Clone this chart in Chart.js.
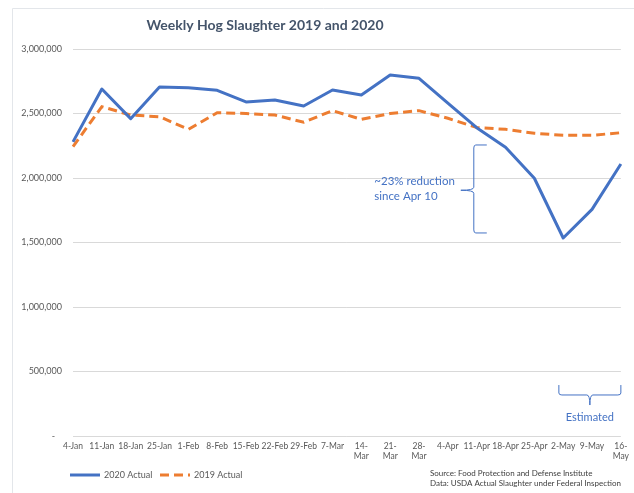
<!DOCTYPE html>
<html>
<head>
<meta charset="utf-8">
<script src="https://cdn.jsdelivr.net/npm/chart.js@4.4.1/dist/chart.umd.min.js"></script>
<style>
  html, body { margin: 0; padding: 0; background: #ffffff; }
  #wrap { width: 634px; height: 493px; position: relative; }
</style>
</head>
<body>
<div id="wrap"><canvas id="c" width="634" height="493"></canvas></div>
<script>
const categories = ['4-Jan','11-Jan','18-Jan','25-Jan','1-Feb','8-Feb','15-Feb','22-Feb','29-Feb','7-Mar',
  ['14-','Mar'],['21-','Mar'],['28-','Mar'],'4-Apr','11-Apr','18-Apr','25-Apr','2-May','9-May',['16-','May']];
const actual2020 = [2280000,2690000,2460000,2705000,2700000,2680000,2590000,2605000,2558000,2682000,
  2643000,2798000,2773000,2580000,2390000,2238000,1998000,1535000,1757000,2109000];
const actual2019 = [2243000,2553000,2488000,2475000,2377000,2506000,2500000,2488000,2432000,2522000,
  2455000,2500000,2522000,2463000,2392000,2377000,2347000,2331000,2331000,2351000];
const yTicks = [0,500000,1000000,1500000,2000000,2500000,3000000];
const seriesNames = ['2020 Actual','2019 Actual'];
const titleText = 'Weekly Hog Slaughter 2019 and 2020';
const sourceLines = ['Source: Food Protection and Defense Institute','Data: USDA Actual Slaughter under Federal Inspection'];
const reductionText = ['~23% reduction','since Apr 10'];
const estimatedText = 'Estimated';

const BLUE = '#4472C4', ORANGE = '#ED7D31', GRID = '#D9D9D9', TXT = '#595959';
const FONT = 'Lato, "Open Sans", sans-serif';

const overlay = {
  id: 'overlay',
  afterDraw(chart) {
    const ctx = chart.ctx;
    const xs = chart.scales.x, ys = chart.scales.y;
    ctx.save();
    // frame
    ctx.strokeStyle = '#E3E6EA'; ctx.lineWidth = 1;
    ctx.beginPath(); ctx.moveTo(12.5, 493); ctx.lineTo(12.5, 8.5); ctx.lineTo(634, 8.5); ctx.stroke();
    // title
    ctx.fillStyle = '#44546A';
    ctx.font = 'bold 14px ' + FONT;
    ctx.textAlign = 'center'; ctx.textBaseline = 'middle';
    ctx.fillText(titleText, 265, 25);
    // legend
    const ds = chart.data.datasets;
    const legendX = [70, 160];
    ctx.font = '9px ' + FONT; ctx.textAlign = 'left';
    ds.forEach((d, i) => {
      ctx.strokeStyle = d.borderColor; ctx.lineWidth = 3;
      ctx.setLineDash(d.borderDash || []);
      ctx.beginPath(); ctx.moveTo(legendX[i], 475); ctx.lineTo(legendX[i] + 30, 475); ctx.stroke();
      ctx.setLineDash([]);
      ctx.fillStyle = TXT;
      ctx.fillText(d.label, legendX[i] + 34, 475);
    });
    // source
    ctx.font = '8px ' + FONT; ctx.fillStyle = '#404040';
    ctx.fillText(sourceLines[0], 430, 473);
    ctx.fillText(sourceLines[1], 430, 483);
    // reduction brace
    ctx.strokeStyle = BLUE; ctx.lineWidth = 1;
    const bx0 = xs.getPixelForValue(13.45), bx1 = xs.getPixelForValue(13.9), bx2 = xs.getPixelForValue(14.35);
    const by0 = ys.getPixelForValue(2256000), by1 = ys.getPixelForValue(1574000), bym = ys.getPixelForValue(1905000);
    ctx.beginPath();
    ctx.moveTo(bx2, by0); ctx.lineTo(bx1 + 2, by0);
    ctx.quadraticCurveTo(bx1, by0, bx1, by0 + 3);
    ctx.lineTo(bx1, bym - 3); ctx.quadraticCurveTo(bx1, bym, bx0, bym);
    ctx.quadraticCurveTo(bx1, bym, bx1, bym + 3);
    ctx.lineTo(bx1, by1 - 3); ctx.quadraticCurveTo(bx1, by1, bx1 + 2, by1);
    ctx.lineTo(bx2, by1);
    ctx.stroke();
    ctx.fillStyle = BLUE; ctx.font = '11.5px ' + FONT; ctx.textAlign = 'left';
    const tx = xs.getPixelForValue(10.45);
    ctx.fillText(reductionText[0], tx, ys.getPixelForValue(1973000));
    ctx.fillText(reductionText[1], tx, ys.getPixelForValue(1857000));
    // estimated bracket
    const ex0 = xs.getPixelForValue(16.85), ex1 = xs.getPixelForValue(19.0), exm = (ex0 + ex1) / 2;
    const ey0 = ys.getPixelForValue(395000), ey1 = ys.getPixelForValue(318000), ey2 = ys.getPixelForValue(240000);
    ctx.beginPath();
    ctx.moveTo(ex0, ey0); ctx.lineTo(ex0, ey1 - 2); ctx.quadraticCurveTo(ex0, ey1, ex0 + 3, ey1);
    ctx.lineTo(exm - 3, ey1); ctx.quadraticCurveTo(exm, ey1, exm, ey2);
    ctx.quadraticCurveTo(exm, ey1, exm + 3, ey1);
    ctx.lineTo(ex1 - 3, ey1); ctx.quadraticCurveTo(ex1, ey1, ex1, ey1 - 2); ctx.lineTo(ex1, ey0);
    ctx.stroke();
    ctx.textAlign = 'center';
    ctx.font = '11px ' + FONT;
    ctx.fillText(estimatedText, exm, ys.getPixelForValue(140000));
    ctx.restore();
  }
};

new Chart(document.getElementById('c'), {
  type: 'line',
  data: {
    labels: categories,
    datasets: [
      { label: seriesNames[0], data: actual2020, borderColor: BLUE, backgroundColor: BLUE,
        borderWidth: 3, pointRadius: 0, tension: 0, borderJoinStyle: 'round' },
      { label: seriesNames[1], data: actual2019, borderColor: ORANGE, backgroundColor: ORANGE,
        borderWidth: 3, borderDash: [9, 5], pointRadius: 0, tension: 0 }
    ]
  },
  options: {
    responsive: false,
    animation: false,
    layout: { padding: { left: 0, right: 12, top: 49, bottom: 29 } },
    plugins: { legend: { display: false }, title: { display: false }, tooltip: { enabled: false } },
    scales: {
      x: {
        offset: false,
        grid: { display: false, drawTicks: false },
        border: { display: false },
        ticks: { autoSkip: false, maxRotation: 0, minRotation: 0, padding: 5, color: TXT,
                 font: { family: FONT, size: 8.5 } },
        afterFit(s) { s.height = 28; }
      },
      y: {
        min: 0, max: 3000000,
        afterBuildTicks(s) { s.ticks = yTicks.map(v => ({ value: v })); },
        grid: { color: GRID, drawTicks: false, lineWidth: 1 },
        border: { display: false },
        ticks: { padding: 11, color: TXT, font: { family: FONT, size: 9 },
                 callback: v => v === 0 ? '-   ' : Number(v).toLocaleString('en-US') },
        afterFit(s) { s.width = 73; }
      }
    }
  },
  plugins: [overlay]
});
</script>
</body>
</html>
